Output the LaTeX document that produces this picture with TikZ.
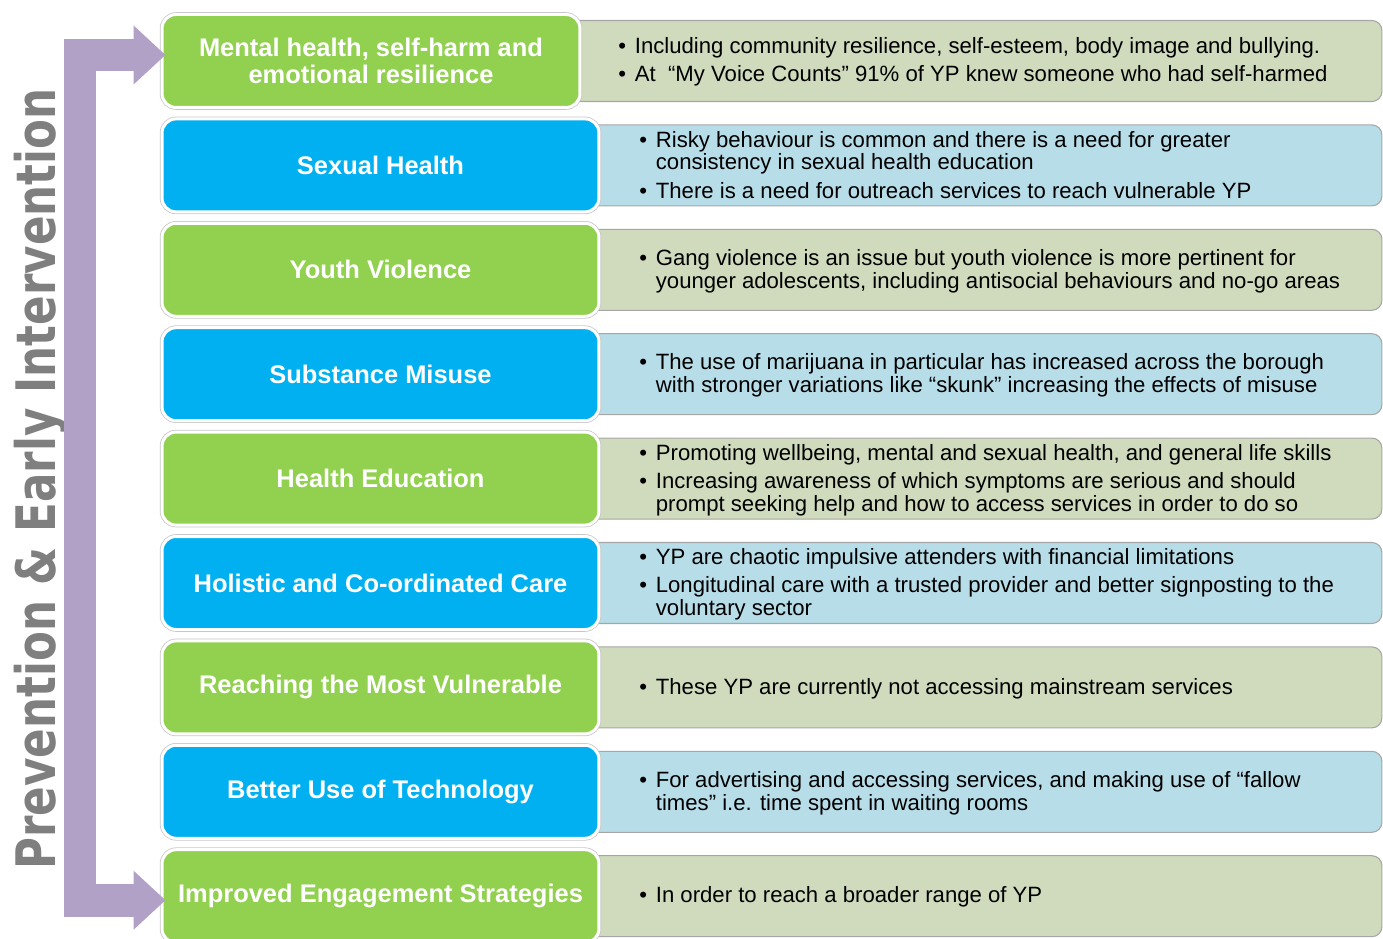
\documentclass[tikz,border=0pt]{standalone}
\usepackage{fontspec}
\setmainfont{Liberation Sans}
\newfontfamily\sidefont{DejaVu Sans}
\usetikzlibrary{arrows.meta}

\definecolor{topicgreen}{HTML}{92D050}
\definecolor{topicblue}{HTML}{00B0F0}
\definecolor{notegreen}{HTML}{CFDBBC}
\definecolor{noteblue}{HTML}{B7DDE8}
\definecolor{flowpurple}{HTML}{B2A1C7}
\definecolor{sidegray}{HTML}{7F7F7F}

\tikzset{
  topic/.style={rounded corners=0.28cm, minimum width=8.74cm, minimum height=1.86cm,
    inner sep=0pt, align=center, text=white,
    font=\fontsize{14.5}{15.3}\selectfont\bfseries,
    draw=white, line width=1.7pt, preaction={draw=black!22, line width=2.6pt}},
  note/.style={rounded corners=0.2cm, minimum width=16.44cm, minimum height=1.62cm,
    inner sep=0pt, draw=black!35, line width=0.6pt},
  notetext/.style={anchor=west, inner sep=0pt, align=left,
    font=\fontsize{12.6}{12.5}\selectfont},
  flow/.style={flowpurple, line width=0.66cm, line join=miter,
    {Triangle[length=0.64cm, width=1.14cm]}-{Triangle[length=0.64cm, width=1.14cm]}}
}
\newcommand{\bl}{\textbullet}
\newcommand{\items}[1]{\begin{tabular}{@{}l@{\hspace{5pt}}l@{}}#1\end{tabular}}

\begin{document}
\begin{tikzpicture}[x=0.02cm, y=-0.02cm]
  \useasboundingbox (0,0) rectangle (1383,939);

  % notes behind the topics
  \node[note, fill=notegreen] (mentalnote) at (971,61) {};
  \node[note, fill=noteblue] (sexualnote) at (971,165.4) {};
  \node[note, fill=notegreen] (violencenote) at (971,269.8) {};
  \node[note, fill=noteblue] (substancenote) at (971,374.2) {};
  \node[note, fill=notegreen] (educationnote) at (971,478.6) {};
  \node[note, fill=noteblue] (holisticnote) at (971,583) {};
  \node[note, fill=notegreen] (vulnerablenote) at (971,687.4) {};
  \node[note, fill=noteblue] (technologynote) at (971,791.8) {};
  \node[note, fill=notegreen] (engagenote) at (971,896.2) {};

  % topics
  \node[topic, fill=topicgreen, minimum width=8.36cm] (mental) at (371,61) {Mental health, self-harm and\\emotional resilience};
  \node[topic, fill=topicblue] (sexual) at (380.5,165.4) {Sexual Health};
  \node[topic, fill=topicgreen] (violence) at (380.5,269.8) {Youth Violence};
  \node[topic, fill=topicblue] (substance) at (380.5,374.2) {Substance Misuse};
  \node[topic, fill=topicgreen] (education) at (380.5,478.6) {Health Education};
  \node[topic, fill=topicblue] (holistic) at (380.5,583) {Holistic and Co-ordinated Care};
  \node[topic, fill=topicgreen] (vulnerable) at (380.5,687.4) {Reaching the Most Vulnerable};
  \node[topic, fill=topicblue] (technology) at (380.5,791.8) {Better Use of Technology};
  \node[topic, fill=topicgreen] (engage) at (380.5,896.2) {Improved Engagement Strategies};

  % note texts
  \node[notetext] (mentaltext) at (618,63) {\items{\bl & Including community resilience, self-esteem, body image and bullying.\\[3pt]
    \bl & At~ “My Voice Counts” 91\% of YP knew someone who had self-harmed}};
  \node[notetext] (sexualtext) at (639,168) {\items{\bl & Risky behaviour is common and there is a need for greater\\
    & consistency in sexual health education\\[3.4pt]
    \bl & There is a need for outreach services to reach vulnerable YP}};
  \node[notetext] (violencetext) at (639,272) {\items{\bl & Gang violence is an issue but youth violence is more pertinent for\\
    & younger adolescents, including antisocial behaviours and no-go areas}};
  \node[notetext] (substancetext) at (639,376) {\items{\bl & The use of marijuana in particular has increased across the borough\\
    & with stronger variations like “skunk” increasing the effects of misuse}};
  \node[notetext] (educationtext) at (639,481) {\items{\bl & Promoting wellbeing, mental and sexual health, and general life skills\\[3.4pt]
    \bl & Increasing awareness of which symptoms are serious and should\\
    & prompt seeking help and how to access services in order to do so}};
  \node[notetext] (holistictext) at (639,585) {\items{\bl & YP are chaotic impulsive attenders with financial limitations\\[3.4pt]
    \bl & Longitudinal care with a trusted provider and better signposting to the\\
    & voluntary sector}};
  \node[notetext] (vulnerabletext) at (639,690) {\items{\bl & These YP are currently not accessing mainstream services}};
  \node[notetext] (technologytext) at (639,794) {\items{\bl & For advertising and accessing services, and making use of “fallow\\
    & times” i.e. time spent in waiting rooms}};
  \node[notetext] (engagetext) at (639,898) {\items{\bl & In order to reach a broader range of YP}};

  % side label and arrow
  \node[rotate=90, anchor=base, inner sep=0pt, text=sidegray,
    font=\sidefont\fontsize{31}{31}\selectfont\bfseries] (side) at (55,479)
    {\scalebox{0.8}[1]{Prevention \& Early Intervention}};
  \coordinate (bar) at (80,479);
  \draw[flow] ([xshift=0.1cm, yshift=0.12cm]mental.west) -- ([yshift=0.12cm]mental.west -| bar)
    -- ([yshift=-0.08cm]engage.west -| bar) -- ([xshift=0.1cm, yshift=-0.08cm]engage.west);
\end{tikzpicture}
\end{document}
